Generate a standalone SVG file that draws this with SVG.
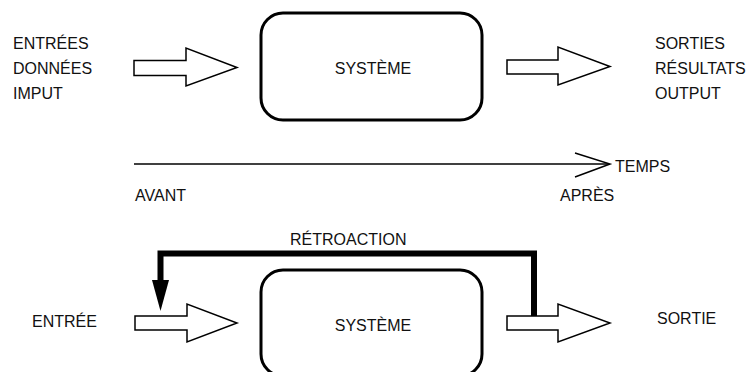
<svg xmlns="http://www.w3.org/2000/svg" width="750" height="372" viewBox="0 0 750 372">
<style>
text{font-family:"Liberation Sans",Arial,sans-serif;font-size:16px;fill:#111}
.box{fill:#fff;stroke:#000;stroke-width:3}
.hol{fill:#fff;stroke:#000;stroke-width:1.5;stroke-linejoin:miter}
.thin{fill:none;stroke:#000;stroke-width:1.5}
.fb{fill:none;stroke:#000;stroke-width:6}
</style>
<rect width="750" height="372" fill="#fff"/>
<g id="inputs-top">
<text x="13" y="49">ENTRÉES</text>
<text x="13" y="74">DONNÉES</text>
<text x="13" y="99">IMPUT</text>
</g>
<g id="system-top">
<rect class="box" x="261" y="13" width="221" height="107" rx="22"/>
<text x="373" y="74" text-anchor="middle">SYSTÈME</text>
</g>
<g id="outputs-top">
<text x="655" y="49">SORTIES</text>
<text x="655" y="74">RÉSULTATS</text>
<text x="655" y="99">OUTPUT</text>
</g>
<g id="timeline">
<text x="615" y="172">TEMPS</text>
<text x="135" y="201">AVANT</text>
<text x="560" y="201">APRÈS</text>
</g>
<g id="input-bottom">
<text x="32" y="327">ENTRÉE</text>
</g>
<g id="system-bottom">
<rect class="box" x="261" y="270" width="221" height="106" rx="22"/>
<text x="373" y="331" text-anchor="middle">SYSTÈME</text>
</g>
<g id="output-bottom">
<text x="657" y="324">SORTIE</text>
</g>
<g id="connectors">
<polygon class="hol" points="134,60.5 186,60.5 186,48 237,67.5 186,86 186,75.5 134,75.5"/>
<polygon class="hol" points="507,60 558,60 558,47 610,66.5 558,85 558,74 507,74"/>
<line class="thin" x1="134" y1="164" x2="609" y2="164"/>
<polyline class="thin" points="575,153 610,164 575,177"/>
<polygon class="hol" points="135,316 187,316 187,304 237,323 187,342 187,330 135,330"/>
<polygon class="hol" points="507,316 558,316 558,304 610,323 558,342 558,330 507,330"/>
<path class="fb" d="M534,316 V253.5 H160.5 V284"/>
<polygon points="152,280 169,280 160.5,311" fill="#000"/>
<text x="290" y="245">RÉTROACTION</text>
</g>
</svg>
